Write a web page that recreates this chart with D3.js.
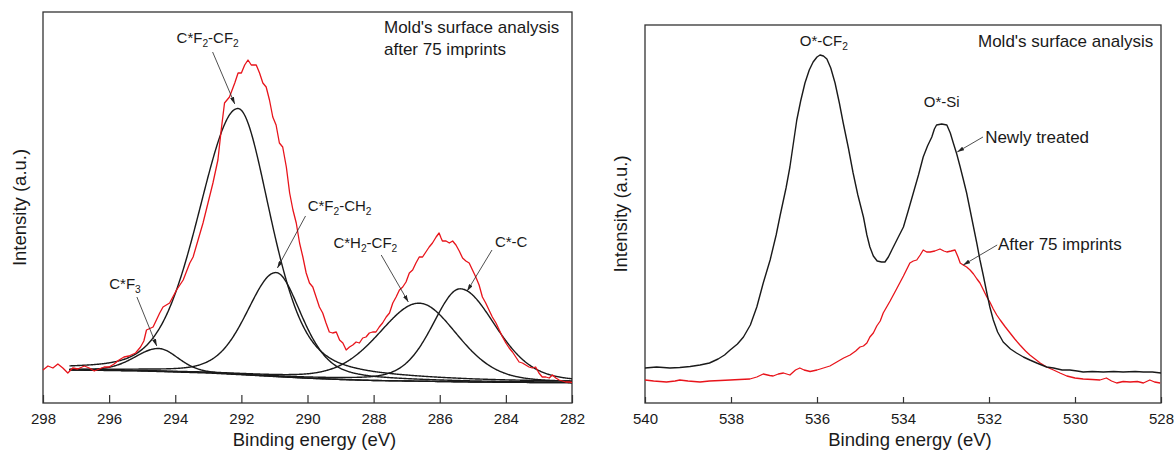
<!DOCTYPE html>
<html>
<head>
<meta charset="utf-8">
<script src="https://cdn.jsdelivr.net/npm/d3@7/dist/d3.min.js"></script>
<style>
  body { margin: 0; background: #fff; }
  text { font-family: "Liberation Sans", Arial, sans-serif; fill: #1a1a1a; }
</style>
</head>
<body>
<svg id="chart" width="1174" height="452"></svg>
<script>
// ---------- C 1s spectrum after 75 imprints (measured) ----------
const c1sEnergy = [298.0,297.85,297.7,297.55,297.4,297.25,297.1,296.95,296.75,296.6,296.45,296.3,296.15,296.0,295.85,295.7,295.55,295.4,295.2,295.05,294.95,294.87,294.67,294.47,294.37,294.17,293.96,293.76,293.56,293.46,293.31,293.16,293.01,292.86,292.71,292.61,292.51,292.36,292.2,292.1,292.0,291.9,291.8,291.7,291.55,291.45,291.35,291.25,291.15,291.05,290.95,290.85,290.75,290.64,290.54,290.44,290.34,290.24,290.14,290.04,289.94,289.84,289.74,289.64,289.54,289.44,289.34,289.24,289.13,289.03,288.93,288.83,288.73,288.63,288.53,288.43,288.33,288.23,288.13,288.03,287.93,287.83,287.73,287.62,287.52,287.42,287.32,287.22,287.12,287.02,286.92,286.82,286.72,286.62,286.52,286.42,286.32,286.22,286.11,286.02,285.96,285.92,285.81,285.71,285.61,285.51,285.41,285.31,285.21,285.11,285.01,284.91,284.81,284.71,284.61,284.51,284.41,284.3,284.2,284.1,284.0,283.9,283.8,283.7,283.6,283.5,283.4,283.3,283.2,283.1,283.0,282.9,282.79,282.69,282.59,282.49,282.39,282.29,282.19,282.09,282.0];
const c1sIntensity = [33,37,35,39,35,30,35,34,37,35,32,34,36,36,39,43,46,47,50,56,62,73,76,90,96,100,113,123,140,146,163,180,200,220,243,273,300,306,320,330,330,338,343,338,338,330,320,316,303,286,278,260,256,236,210,193,180,160,146,130,120,116,106,96,90,80,71,70,71,63,60,53,56,58,61,60,65,66,70,71,71,76,80,86,90,100,106,113,116,121,130,133,140,146,146,151,156,160,166,170,165,162,162,160,162,158,152,145,142,140,133,126,118,106,100,93,86,80,73,66,60,55,51,46,41,40,38,36,35,36,30,26,26,25,28,25,23,22,21,21,20.5];

// Background under the fitted components
const c1sBgEnergy = [297.2,296,295,294,293,292,291,290,289,288,287,286,285,284,283,282];
const c1sBgIntensity = [33,32.5,32,31,30,28.3,26.5,24.8,23.5,22.5,22,21.5,21,20.7,20.5,20.3];

// Fitted C 1s components (pseudo-Voigt parameters)
const peakNames     = ["C*F_3", "C*F_2-CF_2", "C*F_2-CH_2", "C*H_2-CF_2", "C*-C"];
const peakCenters   = [294.5, 292.1, 290.95, 286.62, 285.38];
const peakHeights   = [23, 266, 104, 78, 93];
const peakHwhmHigh  = [0.85, 1.4, 1.05, 1.45, 1.0];   // toward higher binding energy
const peakHwhmLow   = [0.7, 1.17, 0.92, 1.36, 1.27];  // toward lower binding energy
const peakMixHigh   = [0.2, 0.22, 0.3, 0.25, 0.3];    // Lorentzian fraction
const peakMixLow    = [0.2, 0.45, 0.45, 0.25, 0.3];
const fitRange      = [297.2, 282.0];

// Component label placement: text anchor, leader start, arrow tip (energy, intensity)
const peakLabelE  = [295.52, 293.02, 289.03, 288.25, 283.84];
const peakLabelI  = [114, 360, 192, 155, 156];
const peakLeadE   = [295.16, 292.87, 290.06, 287.77, 284.42];
const peakLeadI   = [106, 351, 187, 148, 153];
const peakTipE    = [294.56, 292.2, 290.91, 286.95, 285.17];
const peakTipI    = [57, 299, 135, 101, 112];

const c1sTicks = [298, 296, 294, 292, 290, 288, 286, 284, 282];

// ---------- O 1s spectra ----------
const o1sNewEnergy = [540.0,539.73,539.42,539.19,538.95,538.72,538.5,538.3,538.15,538.02,537.85,537.71,537.55,537.4,537.25,537.09,536.95,536.86,536.72,536.63,536.47,536.38,536.28,536.18,536.09,536.0,535.93,535.85,535.77,535.68,535.58,535.48,535.39,535.27,535.16,535.05,534.92,534.84,534.77,534.69,534.6,534.5,534.42,534.34,534.26,534.12,533.99,533.88,533.76,533.64,533.53,533.43,533.33,533.27,533.22,533.1,532.98,532.9,532.83,532.75,532.67,532.6,532.52,532.44,532.36,532.28,532.21,532.13,532.05,531.98,531.9,531.8,531.67,531.5,531.36,531.2,531.05,530.89,530.66,530.5,530.3,530.12,529.95,529.81,529.6,529.34,529.1,528.88,528.6,528.41,528.2,528.0];
const o1sNewIntensity = [35,36,35,35.5,36.5,38,40,44,48,53,59,66,78,96,120,143,168,187,215,236,283,302,320,333,341,346,348,347,344,335,320,300,280,255,230,208,186,168,156,147,142,141,141,146,153,165,176,192,210,228,246,257,266,274,278,279,278,270,260,249,236,224,210,193,176,159,143,127,110,96,83,71,61,54,50,46,43,40,36,35,33,33,32,31,31.5,31,31.5,31,31.5,31,31,30];

const o1sAfterEnergy = [540.0,539.8,539.5,539.3,539.19,539.0,538.72,538.5,538.25,538.02,537.8,537.56,537.4,537.25,537.1,537.02,536.9,536.78,536.63,536.5,536.4,536.3,536.16,536.0,535.85,535.7,535.54,535.38,535.23,535.1,535.0,534.92,534.84,534.77,534.69,534.61,534.53,534.46,534.38,534.3,534.15,533.99,533.84,533.76,533.68,533.6,533.53,533.45,533.37,533.26,533.14,533.05,532.98,532.88,532.79,532.72,532.67,532.6,532.52,532.44,532.36,532.28,532.21,532.13,532.05,531.98,531.9,531.82,531.74,531.62,531.51,531.4,531.28,531.15,531.05,530.93,530.81,530.66,530.5,530.35,530.19,530.0,529.81,529.6,529.42,529.27,529.15,529.03,528.88,528.72,528.55,528.41,528.26,528.15,528.02];
const o1sAfterIntensity = [23,22,21,22,23,22,21,22,22.5,23,23.5,24,26,29,27.5,27,29,30,28,33,35,33,31.5,33,35,37,41,45,48,52,56,57,60,66,70,77,82,90,96,102,114,127,140,142,143,148,153,151,151,152,154,152,151,152,153,146,140,138,136,133,129,124,120,113,106,101,94,88,83,76,70,64,58,52,48,44,40,36,33,30,27,25,24,23.5,23,25,22,20,21.5,21,21.5,20,23,21,20];

const o1sTicks = [540, 538, 536, 534, 532, 530, 528];

// O 1s annotations (energy, intensity)
const o1sPeakLabels = ["O*-CF_2", "O*-Si"];
const o1sPeakLabelE = [535.84, 533.10];
const o1sPeakLabelI = [357, 296];
const o1sCurveLabels = ["Newly treated", "After 75 imprints"];
const o1sCurveLabelE = [532.09, 531.79];
const o1sCurveLabelI = [260, 153];
const o1sCurveLeadE  = [532.14, 531.81];
const o1sCurveLeadI  = [266, 158];
const o1sCurveTipE   = [532.74, 532.6];
const o1sCurveTipI   = [251, 138];

// ---------- drawing ----------
const svg = d3.select("#chart");
const RED = "#e8141b";
const INK = "#1a1a1a";
const TITLE_SIZE = 18.5;
const NOTE_SIZE = 17;
const PEAK_SIZE = 15;

svg.append("defs").append("marker")
  .attr("id", "arrowhead")
  .attr("viewBox", "0 0 10 6")
  .attr("refX", 10).attr("refY", 3)
  .attr("markerWidth", 7).attr("markerHeight", 4.2)
  .attr("markerUnits", "userSpaceOnUse")
  .attr("orient", "auto")
  .append("path").attr("d", "M0,0 L10,3 L0,6 Z").attr("fill", "#222");

// Text with "_x" meaning subscript x
function richText(sel, label, size) {
  const parts = label.split(/(_.)/).filter(s => s.length);
  let sub = false;
  parts.forEach(p => {
    if (p.startsWith("_")) {
      sel.append("tspan").attr("font-size", size * 0.68).attr("dy", size * 0.28).text(p.slice(1));
      sub = true;
    } else {
      sel.append("tspan").attr("dy", sub ? -size * 0.28 : 0).text(p);
      sub = false;
    }
  });
  return sel;
}

function panel(opts) {
  const g = svg.append("g");
  const x = d3.scaleLinear().domain(opts.xDomain).range([opts.x0, opts.x1]);
  const y = d3.scaleLinear().domain(opts.yDomain).range([opts.y1, opts.y0]);

  // inward ticks on the bottom axis
  const axis = d3.axisBottom(x).tickValues(opts.ticks).tickFormat(d3.format("d"))
    .tickSizeInner(-opts.tickLen).tickSizeOuter(0).tickPadding(10);
  const ax = g.append("g").attr("transform", `translate(0,${opts.y1})`).call(axis);
  ax.select(".domain").remove();
  ax.selectAll(".tick line").attr("stroke", "#333").attr("stroke-width", 1.2);
  ax.selectAll(".tick text").attr("font-size", 15).attr("fill", INK)
    .attr("font-family", '"Liberation Sans", Arial, sans-serif');

  g.append("rect")
    .attr("x", opts.x0).attr("y", opts.y0)
    .attr("width", opts.x1 - opts.x0).attr("height", opts.y1 - opts.y0)
    .attr("fill", "none").attr("stroke", "#333").attr("stroke-width", 1.3);

  g.append("text")
    .attr("x", (opts.x0 + opts.x1) / 2 + opts.titleShift).attr("y", 446)
    .attr("text-anchor", "middle").attr("font-size", TITLE_SIZE)
    .text("Binding energy (eV)");

  g.append("text")
    .attr("transform", `translate(${opts.yTitleX},${(opts.y0 + opts.y1) / 2}) rotate(-90)`)
    .attr("text-anchor", "middle").attr("font-size", TITLE_SIZE)
    .text("Intensity (a.u.)");

  return { g, x, y };
}

function leader(g, x, y, e0, i0, e1, i1) {
  g.append("line")
    .attr("x1", x(e0)).attr("y1", y(i0))
    .attr("x2", x(e1)).attr("y2", y(i1))
    .attr("stroke", "#222").attr("stroke-width", 0.8)
    .attr("marker-end", "url(#arrowhead)");
}

// ----- C 1s panel -----
const L = panel({
  xDomain: [298, 282], yDomain: [0, 391],
  x0: 43, x1: 572, y0: 12, y1: 403,
  ticks: c1sTicks, tickLen: 8, yTitleX: 26, titleShift: 7
});

const bgAt = d3.scaleLinear().domain(c1sBgEnergy).range(c1sBgIntensity);
function component(i, E) {
  const d = E - peakCenters[i];
  const hw = d > 0 ? peakHwhmHigh[i] : peakHwhmLow[i];
  const m = d > 0 ? peakMixHigh[i] : peakMixLow[i];
  const t = d / hw;
  return peakHeights[i] * ((1 - m) * Math.exp(-Math.LN2 * t * t) + m / (1 + t * t));
}
const grid = d3.range(fitRange[0], fitRange[1] - 1e-9, -0.02);

const lineL = d3.line().x(d => L.x(d[0])).y(d => L.y(d[1]));

// background
L.g.append("path")
  .attr("d", lineL(grid.map(E => [E, bgAt(E)])))
  .attr("fill", "none").attr("stroke", INK).attr("stroke-width", 1.4);

// components
peakNames.forEach((name, i) => {
  L.g.append("path")
    .attr("d", lineL(grid.map(E => [E, bgAt(E) + component(i, E)])))
    .attr("fill", "none").attr("stroke", INK).attr("stroke-width", 1.4);
});

// measured spectrum
L.g.append("path")
  .attr("d", lineL(c1sEnergy.map((e, i) => [e, c1sIntensity[i]])))
  .attr("fill", "none").attr("stroke", RED).attr("stroke-width", 1.3)
  .attr("stroke-linejoin", "round");

peakNames.forEach((name, i) => {
  leader(L.g, L.x, L.y, peakLeadE[i], peakLeadI[i], peakTipE[i], peakTipI[i]);
  richText(L.g.append("text")
    .attr("x", L.x(peakLabelE[i])).attr("y", L.y(peakLabelI[i]))
    .attr("text-anchor", "middle").attr("font-size", PEAK_SIZE), name, PEAK_SIZE);
});

const noteL = L.g.append("text").attr("font-size", NOTE_SIZE);
noteL.append("tspan").attr("x", 384).attr("y", 33).text("Mold's surface analysis");
noteL.append("tspan").attr("x", 384).attr("y", 55).text("after 75 imprints");

// ----- O 1s panel -----
const R = panel({
  xDomain: [540, 528], yDomain: [0, 378],
  x0: 645, x1: 1161, y0: 25, y1: 403,
  ticks: o1sTicks, tickLen: 6, yTitleX: 627, titleShift: 7
});
const lineR = d3.line().x(d => R.x(d[0])).y(d => R.y(d[1]));

R.g.append("path")
  .attr("d", lineR(o1sAfterEnergy.map((e, i) => [e, o1sAfterIntensity[i]])))
  .attr("fill", "none").attr("stroke", RED).attr("stroke-width", 1.3)
  .attr("stroke-linejoin", "round");
R.g.append("path")
  .attr("d", lineR(o1sNewEnergy.map((e, i) => [e, o1sNewIntensity[i]])))
  .attr("fill", "none").attr("stroke", INK).attr("stroke-width", 1.4)
  .attr("stroke-linejoin", "round");

o1sPeakLabels.forEach((name, i) => {
  richText(R.g.append("text")
    .attr("x", R.x(o1sPeakLabelE[i])).attr("y", R.y(o1sPeakLabelI[i]))
    .attr("text-anchor", "middle").attr("font-size", PEAK_SIZE), name, PEAK_SIZE);
});
o1sCurveLabels.forEach((name, i) => {
  leader(R.g, R.x, R.y, o1sCurveLeadE[i], o1sCurveLeadI[i], o1sCurveTipE[i], o1sCurveTipI[i]);
  R.g.append("text")
    .attr("x", R.x(o1sCurveLabelE[i])).attr("y", R.y(o1sCurveLabelI[i]))
    .attr("font-size", NOTE_SIZE).text(name);
});

R.g.append("text").attr("x", 978).attr("y", 47).attr("font-size", NOTE_SIZE)
  .text("Mold's surface analysis");
</script>
</body>
</html>
